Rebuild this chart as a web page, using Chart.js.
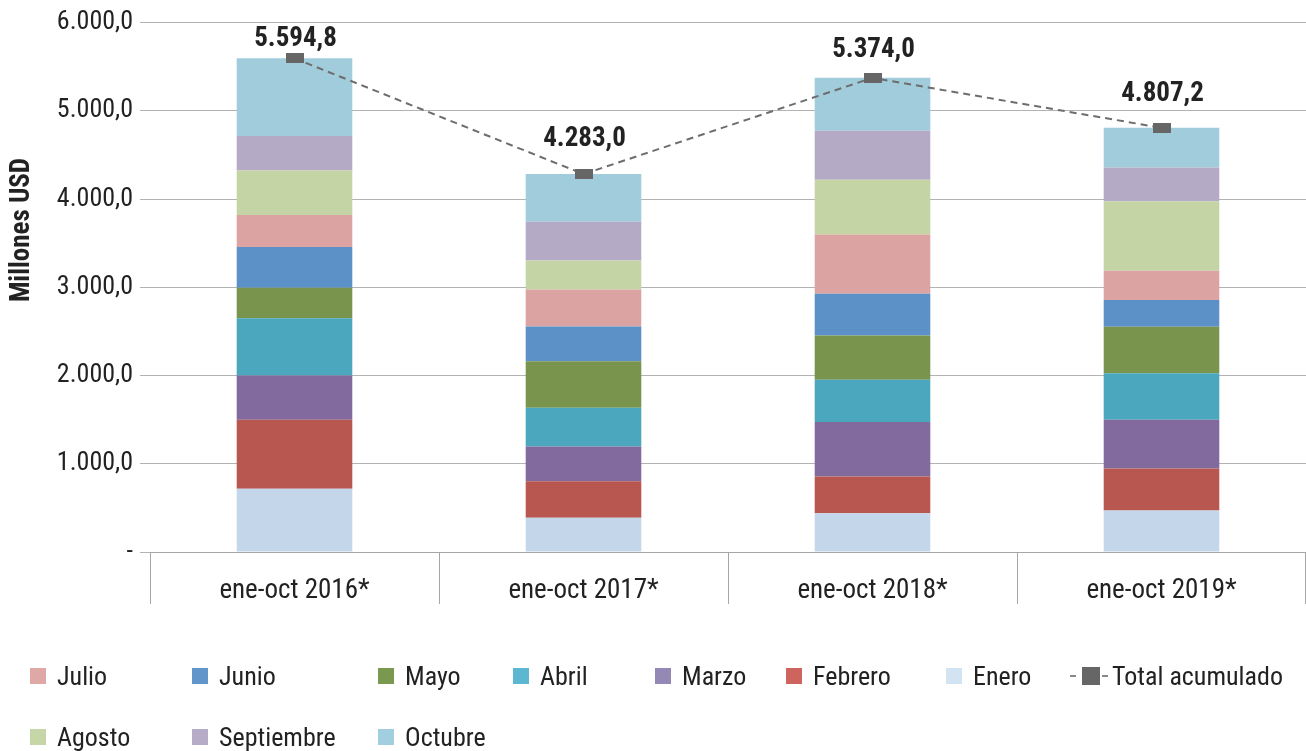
<!DOCTYPE html>
<html lang="es">
<head>
    <meta charset="UTF-8">
    <title>Exportaciones ene-oct</title>
    <style>
        html, body { margin: 0; padding: 0; background: #fff; }
        #wrap { position: relative; width: 1306px; height: 751px; overflow: hidden; }
        #chart { position: absolute; left: 0; top: 0; }
        .leg { position: absolute; display: flex; align-items: center; font-family: "Liberation Sans Narrow", "Roboto Condensed", "Arial Narrow", "DejaVu Sans Condensed", sans-serif; font-size: 26px; color: #222; white-space: nowrap; }
        .leg .box { width: 16px; height: 16px; margin-right: 11px; }
    </style>
</head>
<body>
<div id="wrap">
    <canvas id="chart" width="1306" height="751"></canvas>
    <div id="legend"></div>
</div>

<script src="https://cdn.jsdelivr.net/npm/chart.js@4.4.9/dist/chart.umd.min.js"></script>
<script>
    const FONT = '"Liberation Sans Narrow", "Roboto Condensed", "Arial Narrow", "DejaVu Sans Condensed", sans-serif';

    const categories = ['ene-oct 2016*', 'ene-oct 2017*', 'ene-oct 2018*', 'ene-oct 2019*'];
    const months = ['Enero', 'Febrero', 'Marzo', 'Abril', 'Mayo', 'Junio', 'Julio', 'Agosto', 'Septiembre', 'Octubre'];

    // millones USD por mes
    const enero      = [718, 387, 439, 470];
    const febrero    = [782, 414, 417, 477];
    const marzo      = [501, 394, 617, 553];
    const abril      = [649, 440, 478, 526];
    const mayo       = [344, 527, 504, 527];
    const junio      = [462, 394, 473, 304];
    const julio      = [363, 418, 670, 331];
    const agosto     = [505, 331, 622, 786];
    const septiembre = [391, 439, 553, 383];
    const octubre    = [880, 539, 601, 450];
    const totals     = [5594.8, 4283.0, 5374.0, 4807.2];

    const yTicks = [0, 1000, 2000, 3000, 4000, 5000, 6000];

    const monthValues = [enero, febrero, marzo, abril, mayo, junio, julio, agosto, septiembre, octubre];
    const monthColors = ['#c4d6ea', '#b85750', '#826a9e', '#4ba7bd', '#79954d', '#5b91c6', '#dba3a2', '#c5d4a5', '#b5aac6', '#a0ccdc'];
    const legendColors = ['#d4e3f1', '#cd645d', '#9489b5', '#5bb8d0', '#7a994f', '#6296cb', '#dea8a7', '#c6d6a7', '#b6acc8', '#a1cfdf'];

    // distancia vertical de cada etiqueta de total sobre su marcador (px)
    const labelLift = [19, 35, 28, 34];

    function fmt(v) {
        const parts = v.toFixed(1).split('.');
        parts[0] = parts[0].replace(/\B(?=(\d{3})+(?!\d))/g, '.');
        return parts.join(',');
    }

    // marcador rectangular del total
    const marker = document.createElement('canvas');
    marker.width = 18; marker.height = 10;
    const mctx = marker.getContext('2d');
    mctx.fillStyle = '#666666';
    mctx.fillRect(0, 0, 18, 10);

    const datasets = months.map((m, i) => ({
        type: 'bar',
        label: m,
        data: monthValues[i],
        backgroundColor: monthColors[i],
        borderWidth: 0,
        stack: 'meses',
        order: 1,
        barPercentage: 0.8,
        categoryPercentage: 0.5
    }));
    datasets.push({
        type: 'line',
        label: 'Total acumulado',
        data: totals,
        borderColor: '#6d6d6d',
        borderWidth: 2,
        borderDash: [7, 5],
        pointStyle: marker,
        pointRadius: 9,
        fill: false,
        order: 0
    });

    const extras = {
        id: 'extras',
        afterDraw(chart) {
            const ctx = chart.ctx;
            const x = chart.scales.x;
            const area = chart.chartArea;
            ctx.save();
            // separadores de categorías bajo el eje
            ctx.strokeStyle = '#a6a6a6';
            ctx.lineWidth = 1;
            const edges = [area.left];
            for (let i = 0; i < categories.length - 1; i++) {
                edges.push((x.getPixelForValue(i) + x.getPixelForValue(i + 1)) / 2);
            }
            edges.push(area.right - 1);
            edges.forEach(px => {
                const xx = Math.round(px) + 0.5;
                ctx.beginPath();
                ctx.moveTo(xx, area.bottom);
                ctx.lineTo(xx, area.bottom + 52);
                ctx.stroke();
            });
            // etiquetas de totales
            const meta = chart.getDatasetMeta(chart.data.datasets.length - 1);
            ctx.fillStyle = '#222';
            ctx.font = 'bold 27px ' + FONT;
            ctx.textAlign = 'center';
            ctx.textBaseline = 'middle';
            meta.data.forEach((pt, i) => {
                ctx.fillText(fmt(totals[i]), pt.x + 1, pt.y - labelLift[i]);
            });
            // título del eje Y
            ctx.font = 'bold 27px ' + FONT;
            ctx.translate(22, 230);
            ctx.rotate(-Math.PI / 2);
            ctx.fillText('Millones USD', 0, 0);
            ctx.restore();
        }
    };

    const chart = new Chart(document.getElementById('chart'), {
        data: { labels: categories, datasets: datasets },
        options: {
            responsive: false,
            animation: false,
            layout: { autoPadding: false, padding: { top: 22, right: 0, bottom: 147, left: 0 } },
            plugins: {
                legend: { display: false },
                tooltip: { enabled: false }
            },
            scales: {
                x: {
                    stacked: true,
                    grid: { display: false },
                    border: { display: true, color: '#a6a6a6' },
                    ticks: { color: '#222', font: { family: FONT, size: 27 }, padding: 15, maxRotation: 0 },
                    afterFit(scale) { scale.height = 52; }
                },
                y: {
                    stacked: true,
                    min: 0,
                    max: 6000,
                    afterBuildTicks(scale) { scale.ticks = yTicks.map(v => ({ value: v })); },
                    grid: { color: '#b3b3b3', tickLength: 10 },
                    border: { display: false },
                    ticks: {
                        color: '#222',
                        padding: 7,
                        font: { family: FONT, size: 26 },
                        callback: v => v === 0 ? '-' : fmt(v)
                    },
                    afterFit(scale) { scale.width = 150; }
                }
            }
        },
        plugins: [extras]
    });

    // leyenda HTML con la disposición en columnas del original
    const legendOrder = ['Julio', 'Junio', 'Mayo', 'Abril', 'Marzo', 'Febrero', 'Enero', 'Total acumulado', 'Agosto', 'Septiembre', 'Octubre'];
    const legendPos = [[30, 677], [192, 677], [378, 677], [513, 677], [655, 677], [786, 677], [946, 677], [1070, 677], [30, 738], [192, 738], [378, 738]];
    const legendEl = document.getElementById('legend');
    legendOrder.forEach((name, i) => {
        const item = document.createElement('div');
        item.className = 'leg';
        item.style.left = legendPos[i][0] + 'px';
        item.style.top = (legendPos[i][1] - 16) + 'px';
        const ds = chart.data.datasets.find(d => d.label === name);
        if (ds.type === 'line') {
            item.innerHTML = '<span style="display:inline-block;width:6px;height:2px;background:#888;margin-right:6px"></span>' +
                '<span style="display:inline-block;width:18px;height:18px;background:#666"></span>' +
                '<span style="display:inline-block;width:6px;height:2px;background:#888;margin:0 4px 0 2px"></span>';
        } else {
            const c = legendColors[months.indexOf(name)];
            item.innerHTML = '<span class="box" style="background:' + c + '"></span>';
        }
        item.appendChild(document.createTextNode(name));
        legendEl.appendChild(item);
    });
</script>
</body>
</html>
